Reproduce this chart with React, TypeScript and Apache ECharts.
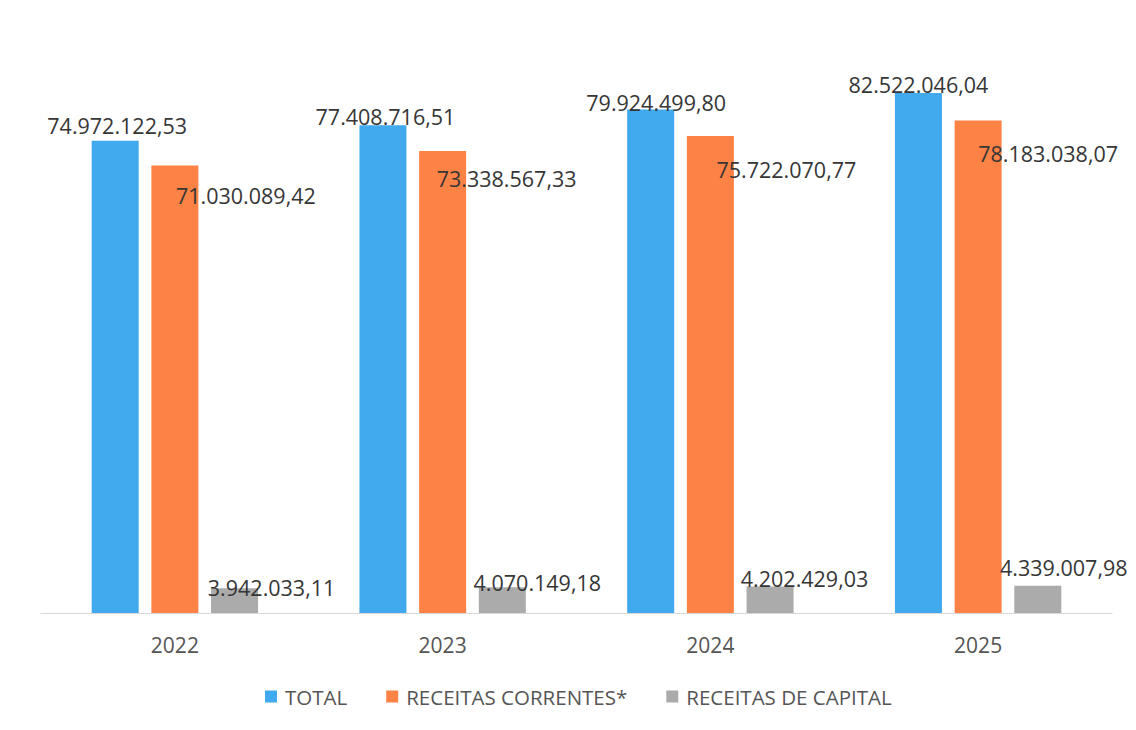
import React, { useEffect, useRef } from "react";
import * as echarts from "echarts";

const categories = ["2022", "2023", "2024", "2025"];
const seriesNames = ["TOTAL", "RECEITAS CORRENTES*", "RECEITAS DE CAPITAL"];
const totalValues = [74972122.53, 77408716.51, 79924499.8, 82522046.04];
const correntesValues = [71030089.42, 73338567.33, 75722070.77, 78183038.07];
const capitalValues = [3942033.11, 4070149.18, 4202429.03, 4339007.98];

// label placement (layout only, not data)
const totalLabelShift = [[2, -15], [2.5, -9], [5.5, -7], [0, -9]];
const correntesLabelShift = [[71, 29.5], [64, 28], [76, 34], [70, 33]];
const capitalLabelShift = [[37, -1], [35, -4.5], [34.5, -8.5], [26, -18.5]];

const colors = ["#41A9EE", "#FD8245", "#ABABAB"];
const FONT = "'Open Sans', 'Liberation Sans', sans-serif";

function fmt(v: number): string {
  const fixed = v.toFixed(2);
  const [intPart, dec] = fixed.split(".");
  const withDots = intPart.replace(/\B(?=(\d{3})+(?!\d))/g, ".");
  return withDots + "," + dec;
}

function buildData(values: number[], shifts: number[][]) {
  return values.map((v, i) => ({
    value: v,
    label: { offset: shifts[i] },
  }));
}

export default function App() {
  const ref = useRef<HTMLDivElement>(null);
  useEffect(() => {
    if (!ref.current) return;
    const chart = echarts.init(ref.current, undefined, { renderer: "svg" });
    const labelBase = {
      show: true,
      position: ["50%", 0],
      align: "center",
      verticalAlign: "middle",
      fontFamily: FONT,
      fontSize: 21.5,
      color: "#363636",
      formatter: (p: any) => fmt(p.value),
    };
    const mk = (name: string, values: number[], shifts: number[][], color: string) => ({
      name,
      type: "bar",
      barWidth: 47,
      barGap: "27%",
      itemStyle: { color },
      label: labelBase,
      data: buildData(values, shifts),
      z: 2,
    });
    chart.setOption({
      animation: false,
      backgroundColor: "#ffffff",
      grid: { left: 41, right: 24, top: 46, bottom: 117, containLabel: false },
      legend: {
        data: seriesNames,
        left: 260,
        top: 681,
        icon: "rect",
        itemWidth: 12,
        itemHeight: 12,
        itemGap: 39,
        textStyle: {
          fontFamily: FONT,
          fontSize: 20.5,
          color: "#555555",
          padding: [0, 0, 0, 3],
        },
      },
      xAxis: {
        type: "category",
        data: categories,
        axisLine: { show: true, lineStyle: { color: "#cfcfcf", type: "dotted", width: 1 } },
        axisTick: { show: false },
        axisLabel: {
          fontFamily: FONT,
          fontSize: 21,
          color: "#555555",
          margin: 21,
          lineHeight: 21,
        },
      },
      yAxis: {
        type: "value",
        min: 0,
        max: 90000000,
        show: false,
        splitLine: { show: false },
      },
      series: [
        mk(seriesNames[0], totalValues, totalLabelShift, colors[0]),
        mk(seriesNames[1], correntesValues, correntesLabelShift, colors[1]),
        mk(seriesNames[2], capitalValues, capitalLabelShift, colors[2]),
      ],
    });
    return () => chart.dispose();
  }, []);
  return (
    <div
      ref={ref}
      style={{ position: "fixed", left: 0, top: 0, width: 1136, height: 730, background: "#fff" }}
    />
  );
}
